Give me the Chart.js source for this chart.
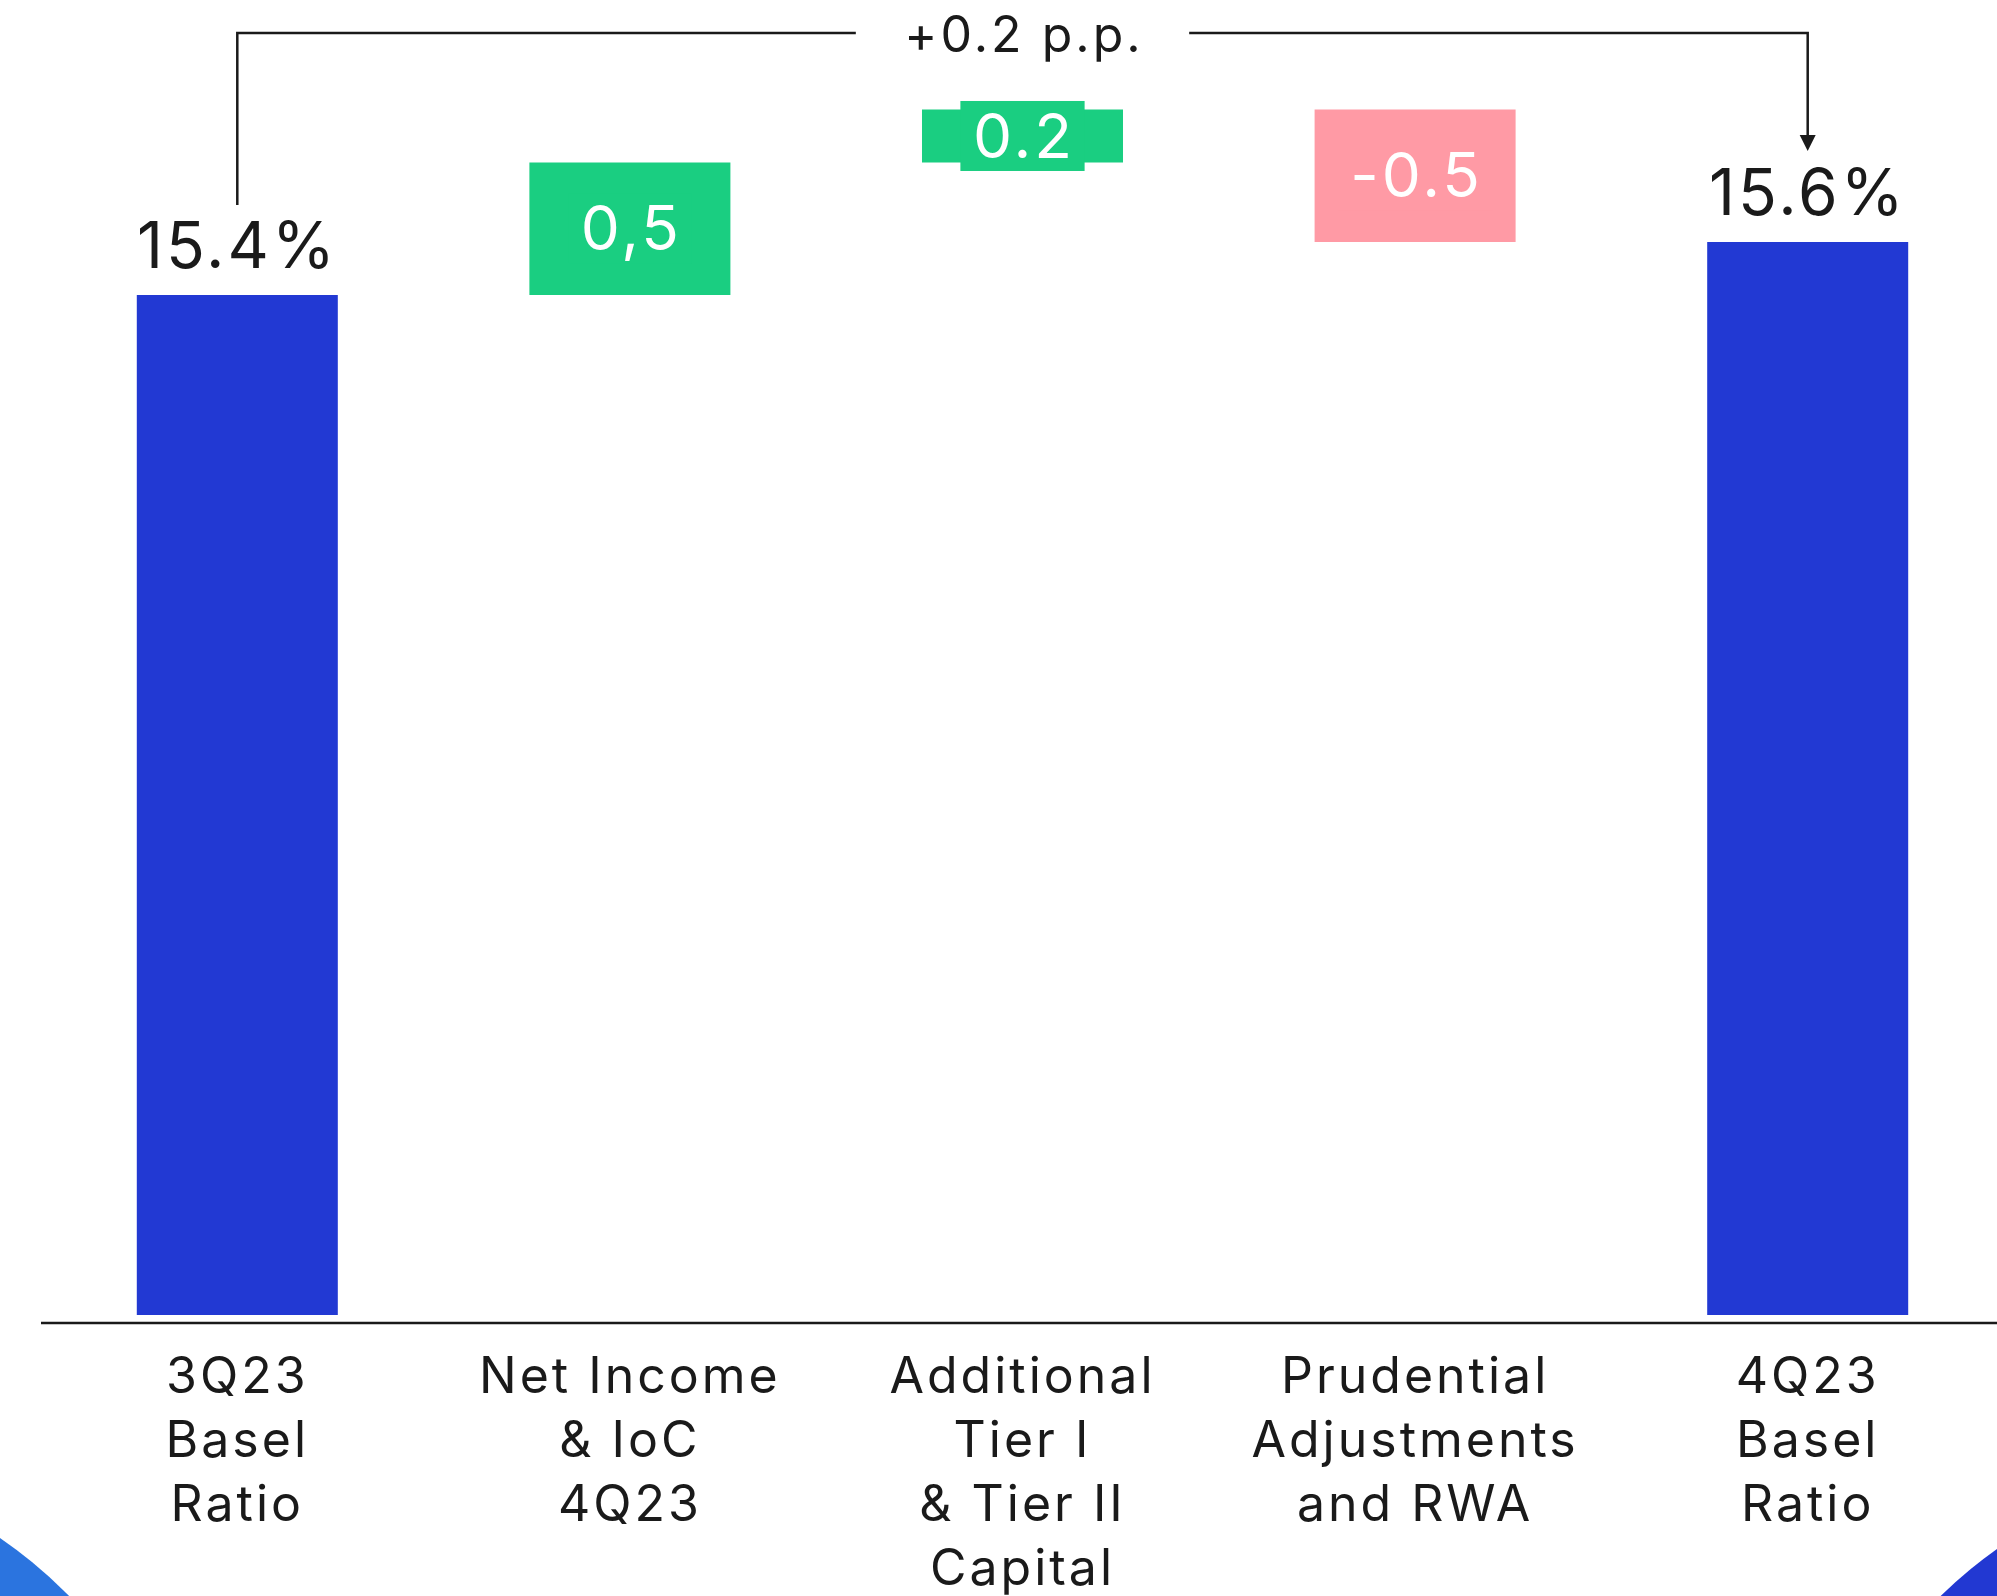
<!DOCTYPE html>
<html>
<head>
<meta charset="utf-8">
<title>Basel Ratio</title>
<script src="https://cdn.jsdelivr.net/npm/chart.js@4.4.1/dist/chart.umd.min.js"></script>
<style>
  html, body { margin: 0; padding: 0; background: #fff; overflow: hidden; }
  body { width: 1997px; height: 1596px; position: relative; }
  .corner { position: absolute; border-radius: 50%; }
  .corner.left { left: -746px; top: 1454px; width: 952px; height: 952px; background: #2b74df; }
  .corner.right { left: 1800px; top: 1463px; width: 934px; height: 934px; background: #2238d2; }
  #wrap { position: absolute; left: 0; top: 0; width: 2004px; height: 1596px; }
</style>
</head>
<body>
<div class="corner left"></div>
<div class="corner right"></div>
<div id="wrap"><canvas id="chart"></canvas></div>
<script>
const categories = [
  ["3Q23", "Basel", "Ratio"],
  ["Net Income", "& IoC", "4Q23"],
  ["Additional", "Tier I", "& Tier II", "Capital"],
  ["Prudential", "Adjustments", "and RWA"],
  ["4Q23", "Basel", "Ratio"]
];
const startRatio = 15.4;
const endRatio = 15.6;
const steps = [0.5, 0.2, -0.5];
const stepLabels = ["0,5", "0.2", "-0.5"];
const changeLabel = "+0.2 p.p.";
const axisMin = 11.55;
const axisMax = 16.4;

const BLUE = "#2239d3";
const GREEN = "#1ace81";
const PINK = "#ff9aa5";
const INK = "#1a1a1a";
const FONT = "Inter, 'Noto Sans', sans-serif";

// waterfall: totals stand on the axis, each step floats from the running level
let level = startRatio;
const stepBars = steps.map((step) => {
  const bar = [level, level + step];
  level += step;
  return bar;
});
const barData = [startRatio, ...stepBars, endRatio];
const barColors = [BLUE, ...steps.map((step) => (step >= 0 ? GREEN : PINK)), BLUE];

const waterfallLabels = {
  id: "waterfallLabels",
  beforeDraw(chart) {
    chart.ctx.letterSpacing = "3px";
  },
  afterDatasetsDraw(chart) {
    const { ctx, chartArea } = chart;
    const bars = chart.getDatasetMeta(0).data;
    const first = bars[0];
    const last = bars[bars.length - 1];

    ctx.save();
    ctx.letterSpacing = "3px";

    // baseline under the bars
    ctx.strokeStyle = INK;
    ctx.lineWidth = 2.5;
    ctx.beginPath();
    ctx.moveTo(chartArea.left, chartArea.bottom + 8);
    ctx.lineTo(chart.width, chartArea.bottom + 8);
    ctx.stroke();

    // totals above their bars
    ctx.textAlign = "center";
    ctx.textBaseline = "alphabetic";
    ctx.fillStyle = INK;
    ctx.font = `64px ${FONT}`;
    ctx.fillText(`${startRatio.toFixed(1)}%`, first.x, first.y - 27);
    ctx.fillText(`${endRatio.toFixed(1)}%`, last.x, last.y - 27);

    // step values on a tag in the bar colour
    ctx.font = `62px ${FONT}`;
    ctx.textBaseline = "middle";
    stepLabels.forEach((label, i) => {
      const bar = bars[i + 1];
      const mid = (bar.y + bar.base) / 2;
      const w = ctx.measureText(label).width + 22;
      ctx.fillStyle = barColors[i + 1];
      ctx.fillRect(bar.x - w / 2, mid - 35, w, 70);
      ctx.fillStyle = "#ffffff";
      ctx.fillText(label, bar.x + 1.5, mid + 3);
    });

    // bracket from first to last total with the change in the middle
    const topY = chartArea.top + 3;
    const midX = (first.x + last.x) / 2;
    ctx.font = `50px ${FONT}`;
    const gap = ctx.measureText(changeLabel).width / 2 + 47;
    ctx.strokeStyle = INK;
    ctx.lineWidth = 2.5;
    ctx.beginPath();
    ctx.moveTo(first.x, first.y - 90);
    ctx.lineTo(first.x, topY);
    ctx.lineTo(midX - gap, topY);
    ctx.moveTo(midX + gap, topY);
    ctx.lineTo(last.x, topY);
    ctx.lineTo(last.x, last.y - 105);
    ctx.stroke();
    ctx.fillStyle = INK;
    ctx.beginPath();
    ctx.moveTo(last.x - 8, last.y - 107);
    ctx.lineTo(last.x + 8, last.y - 107);
    ctx.lineTo(last.x, last.y - 91);
    ctx.closePath();
    ctx.fill();
    ctx.textBaseline = "alphabetic";
    ctx.fillText(changeLabel, midX + 1.5, topY + 19);

    ctx.restore();
  },
  afterDraw(chart) {
    chart.ctx.letterSpacing = "0px";
  }
};

new Chart(document.querySelector("#chart"), {
  type: "bar",
  data: {
    labels: categories,
    datasets: [{
      data: barData,
      backgroundColor: barColors,
      borderWidth: 0,
      categoryPercentage: 1,
      barPercentage: 0.512
    }]
  },
  options: {
    responsive: true,
    maintainAspectRatio: false,
    animation: false,
    layout: { padding: { top: 30, left: 41, right: 0, bottom: 0 } },
    scales: {
      x: {
        grid: { display: false, drawTicks: false },
        border: { display: false },
        ticks: {
          color: INK,
          font: { family: FONT, size: 50, lineHeight: 1.28 },
          padding: 31,
          maxRotation: 0,
          autoSkip: false
        },
        afterFit(scale) {
          scale.height = 281;
        }
      },
      y: { display: false, min: axisMin, max: axisMax }
    },
    plugins: {
      legend: { display: false },
      tooltip: { enabled: false }
    }
  },
  plugins: [waterfallLabels]
});
</script>
</body>
</html>
